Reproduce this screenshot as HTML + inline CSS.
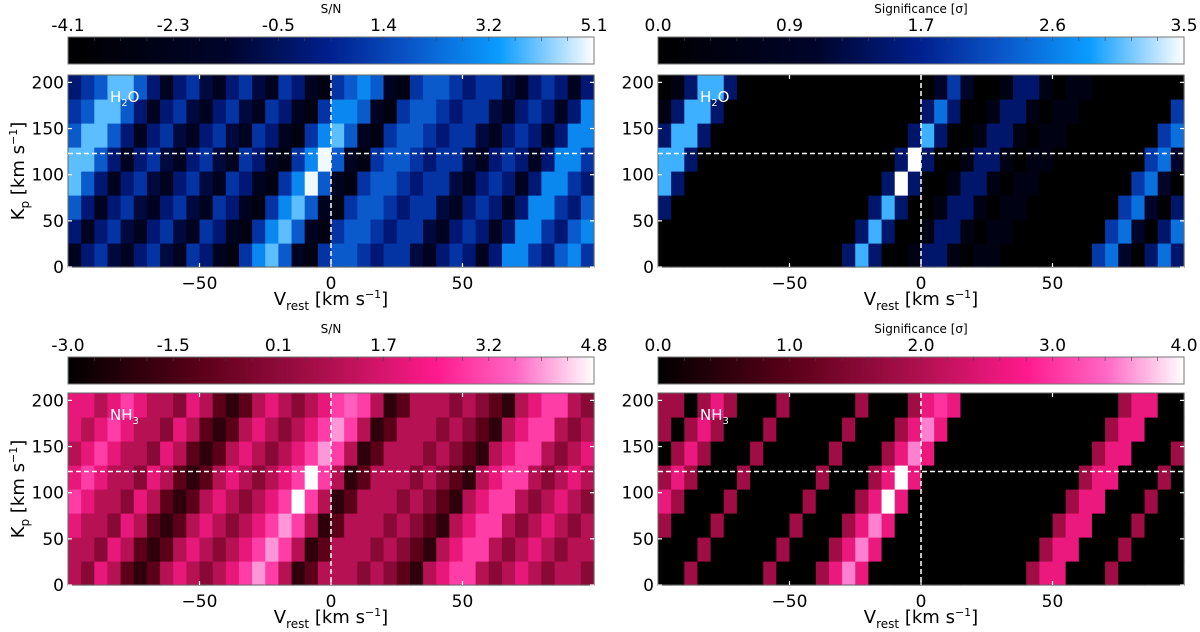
<!DOCTYPE html>
<html><head><meta charset="utf-8"><style>
body{margin:0;background:#fff;font-family:"Liberation Sans","DejaVu Sans",sans-serif}
svg{display:block}
text{font-family:"DejaVu Sans","Liberation Sans",sans-serif}
</style></head><body>
<svg id="fig" width="1200" height="632" viewBox="0 0 1200 632" xmlns="http://www.w3.org/2000/svg">
<defs>
<linearGradient id="gBlue" x1="0" x2="1" y1="0" y2="0">
<stop offset="0" stop-color="#000000"/><stop offset="0.3" stop-color="#00042a"/><stop offset="0.5" stop-color="#00208f"/><stop offset="0.65" stop-color="#0a55c8"/><stop offset="0.82" stop-color="#0a9cff"/><stop offset="1" stop-color="#ffffff"/>
</linearGradient>
<linearGradient id="gPink" x1="0" x2="1" y1="0" y2="0">
<stop offset="0" stop-color="#000000"/><stop offset="0.25" stop-color="#5a0018"/><stop offset="0.5" stop-color="#b0104f"/><stop offset="0.7" stop-color="#ff1a8c"/><stop offset="0.85" stop-color="#ff66c4"/><stop offset="1" stop-color="#ffffff"/>
</linearGradient>
</defs>
</svg>
<script>
// Vrest column centres: -97.5 ... 97.5 step 5 (40 columns); Kp rows 0..7 (bottom to top, 26 km/s each)
const vrestRange = [-100, 100];
const kpRange = [0, 208];
const xTicks = [-50, 0, 50];
const yTicks = [0, 50, 100, 150, 200];
const kpMarker = 123;
const vMarker = 0;

const snH2O = [
[-2,0,1,-1,-2,0,1,-1,-2,1,0,-2,-3,1,3,4,2,-2,-3,1,2,2,1,0,1,1,-1,-2,0,1,0,-2,0,3,3,1,0,2,3,1],
[0,-2,0,1,-1,-2,0,1,-1,-2,1,0,-2,-3,1,3,4,2,-2,-3,1,2,2,1,0,1,1,-1,-2,0,1,0,-2,0,3,3,1,0,2,3],
[2,0,-2,0,1,-1,-2,0,1,-1,-2,1,0,-2,-3,1,3,4,2,-2,-3,1,2,2,1,0,1,1,-1,-2,0,1,0,-2,0,3,3,1,0,2],
[4,2,0,-2,0,1,-1,-2,0,1,-1,-2,1,0,-2,-3,1,3,5,2,-2,-3,1,2,2,1,0,1,1,-1,-2,0,1,0,-2,0,3,3,1,0],
[4,4,2,0,-2,0,1,-1,-2,0,1,-1,-2,1,0,-2,-3,1,3,5,2,-2,-3,1,2,2,1,0,1,1,-1,-2,0,1,0,-2,0,3,3,1],
[2,4,4,2,0,-2,0,1,-1,-2,0,1,-1,-2,1,0,-2,-3,1,3,4,2,-2,-3,1,2,2,1,0,1,1,-1,-2,0,1,0,-2,0,3,3],
[1,2,4,4,2,0,-2,0,1,-1,-2,0,1,-1,-2,1,0,-2,-3,1,3,3,2,-2,-3,1,2,2,1,0,1,1,-1,-2,0,1,0,-2,0,3],
[0,1,2,4,4,2,0,-2,0,1,-1,-2,0,1,-1,-2,1,0,-2,-3,1,2,3,2,-2,-3,1,2,2,1,0,1,1,-1,-2,0,1,0,-2,0]];

const sigH2O = [
[0,0,0,0,0,0,0,0,0,0,0,0,0,0,1.5,3,1.5,0,0,0.5,1.5,1.5,0.5,0,0.5,0.5,0,0,0,0,0,0,0,2,2.5,1,0,1.5,2.5,1.5],
[0,0,0,0,0,0,0,0,0,0,0,0,0,0,0,1.5,3,1.5,0,0,0.5,1.5,1.5,0.5,0,0.5,0.5,0,0,0,0,0,0,0,2,2.5,1,0,1.5,2.5],
[1.5,0,0,0,0,0,0,0,0,0,0,0,0,0,0,0,1.5,3,1.5,0,0,0.5,1.5,1.5,0.5,0,0.5,0.5,0,0,0,0,0,0,0,2,2.5,1,0,1.5],
[3,1.5,0,0,0,0,0,0,0,0,0,0,0,0,0,0,0,1.5,3.5,1.5,0,0,0.5,1.5,1.5,0.5,0,0.5,0.5,0,0,0,0,0,0,0,2,2.5,1,0],
[3,3,1.5,0,0,0,0,0,0,0,0,0,0,0,0,0,0,0,1.5,3.5,1.5,0,0,0.5,1.5,1.5,0.5,0,0.5,0.5,0,0,0,0,0,0,0,2,2.5,1],
[1.5,3,3,1.5,0,0,0,0,0,0,0,0,0,0,0,0,0,0,0,1.5,3,1.5,0,0,0.5,1.5,1.5,0.5,0,0.5,0.5,0,0,0,0,0,0,0,2,2.5],
[0.5,1.5,3,3,1.5,0,0,0,0,0,0,0,0,0,0,0,0,0,0,0,1.5,2.5,1.5,0,0,0.5,1.5,1.5,0.5,0,0.5,0.5,0,0,0,0,0,0,0,2],
[0,0.5,1.5,3,3,1.5,0,0,0,0,0,0,0,0,0,0,0,0,0,0,0,1,2,1,0,0,0.5,1.5,1.5,0.5,0,0.5,0.5,0,0,0,0,0,0,0]];

const snNH3 = [
[1,0,2,1,-1,-2,-1,1,2,1,0,1,2,3,4,3,1,-2,-1,1,1,1,0,1,0,-1,-2,1,2,3,3,1,0,1,2,1,0,1,1,0],
[1,1,0,2,1,-1,-2,-1,1,2,1,0,1,2,3,4,3,1,-2,-1,1,1,1,0,1,0,-1,-2,1,2,3,3,1,0,1,2,1,0,1,1],
[2,1,1,0,2,1,-1,-2,-1,1,2,1,0,1,2,3,4,3,1,-2,-1,1,1,1,0,1,0,-1,-2,1,2,3,3,1,0,1,2,1,0,1],
[3,2,1,1,0,2,1,-1,-2,-1,1,2,1,0,1,2,3,4.8,3,1,-2,-1,1,1,1,0,1,0,-1,-2,1,2,3,3,1,0,1,2,1,0],
[2,3,2,1,1,0,2,1,-1,-2,-1,1,2,1,0,1,2,3,4.8,3,1,-2,-1,1,1,1,0,1,0,-1,-2,1,2,3,3,1,0,1,2,1],
[1,2,3,2,1,1,0,2,1,-1,-2,-1,1,2,1,0,1,2,3,4,3,1,-2,-1,1,1,1,0,1,0,-1,-2,1,2,3,3,1,0,1,2],
[2,1,2,3,2,1,1,0,2,1,-1,-2,-1,1,2,1,0,1,2,3,4,3,1,-2,-1,1,1,1,0,1,0,-1,-2,1,2,3,3,1,0,1],
[2,2,1,2,3,2,1,1,0,2,1,-1,-2,-1,1,2,1,0,1,2,3,3.5,3,1,-2,-1,1,1,1,0,1,0,-1,-2,1,2,3,3,1,0]];

const sigNH3 = [
[0,0,1.8,0,0,0,0,0,1.8,0,0,0,1.8,2.6,3.5,2.6,0,0,0,0,0,0,0,0,0,0,0,0,1.8,2.6,2.6,0,0,0,1.8,0,0,0,0,0],
[0,0,0,1.8,0,0,0,0,0,1.8,0,0,0,1.8,2.6,3.5,2.6,0,0,0,0,0,0,0,0,0,0,0,0,1.8,2.6,2.6,0,0,0,1.8,0,0,0,0],
[1.8,0,0,0,1.8,0,0,0,0,0,1.8,0,0,0,1.8,2.6,3.5,2.6,0,0,0,0,0,0,0,0,0,0,0,0,1.8,2.6,2.6,0,0,0,1.8,0,0,0],
[2.6,1.8,0,0,0,1.8,0,0,0,0,0,1.8,0,0,0,1.8,2.6,4,2.6,0,0,0,0,0,0,0,0,0,0,0,0,1.8,2.6,2.6,0,0,0,1.8,0,0],
[1.8,2.6,1.8,0,0,0,1.8,0,0,0,0,0,1.8,0,0,0,1.8,2.6,4,2.6,0,0,0,0,0,0,0,0,0,0,0,0,1.8,2.6,2.6,0,0,0,1.8,0],
[0,1.8,2.6,1.8,0,0,0,1.8,0,0,0,0,0,1.8,0,0,0,1.8,2.6,3.5,2.6,0,0,0,0,0,0,0,0,0,0,0,0,1.8,2.6,2.6,0,0,0,1.8],
[1.8,0,1.8,2.6,1.8,0,0,0,1.8,0,0,0,0,0,1.8,0,0,0,1.8,2.6,3.5,2.6,0,0,0,0,0,0,0,0,0,0,0,0,1.8,2.6,2.6,0,0,0],
[1.8,1.8,0,1.8,2.6,1.8,0,0,0,1.8,0,0,0,0,0,1.8,0,0,0,1.8,2.6,3,2.6,0,0,0,0,0,0,0,0,0,0,0,0,1.8,2.6,2.6,0,0]];

const cbTicksTL = ["-4.1","-2.3","-0.5","1.4","3.2","5.1"];
const cbTicksTR = ["0.0","0.9","1.7","2.6","3.5"];
const cbTicksBL = ["-3.0","-1.5","0.1","1.7","3.2","4.8"];
const cbTicksBR = ["0.0","1.0","2.0","3.0","4.0"];

const NS="http://www.w3.org/2000/svg";
const svg=document.getElementById('fig');
function mk(tag,attrs,parent){const e=document.createElementNS(NS,tag);for(const k in attrs)e.setAttribute(k,attrs[k]);(parent||svg).appendChild(e);return e;}
const blueStops=[[0,[0,0,0]],[0.3,[0,4,42]],[0.5,[0,32,143]],[0.65,[10,85,200]],[0.82,[10,156,255]],[1,[255,255,255]]];
const pinkStops=[[0,[0,0,0]],[0.25,[90,0,24]],[0.5,[176,16,79]],[0.7,[255,26,140]],[0.85,[255,102,196]],[1,[255,255,255]]];
function cmap(stops,t){t=Math.max(0,Math.min(1,t));for(let i=1;i<stops.length;i++){if(t<=stops[i][0]){const a=stops[i-1],b=stops[i];const f=(t-a[0])/(b[0]-a[0]);const c=a[1].map((v,k)=>Math.round(v+(b[1][k]-v)*f));return `rgb(${c[0]},${c[1]},${c[2]})`;}}return 'rgb(255,255,255)';}

function panel(o){
  const g=mk('g',{});
  
  
  const X0=o.x, X1=o.x+526, Y0=o.y, Y1=o.y+192;
  const xs=v=>X0+(v-vrestRange[0])/(vrestRange[1]-vrestRange[0])*(X1-X0);
  const ys=k=>Y1-(k-kpRange[0])/(kpRange[1]-kpRange[0])*(Y1-Y0);
  const cbY=o.cbY;
  const cbTitle=mk('text',{x:(X0+X1)/2,y:cbY-24,'font-size':12,'text-anchor':'middle',fill:'#000'},g);
  cbTitle.textContent=o.cbTitle;
  
  
  const cb=mk('rect',{x:X0,y:cbY,width:X1-X0,height:27,fill:`url(#${o.grad})`,stroke:'#777','stroke-width':1},g);
  
  
  o.cbTicks.forEach((t,i)=>{
    const tx=X0+i*(X1-X0)/(o.cbTicks.length-1);
    const te=mk('text',{x:tx,y:cbY-6,'font-size':17,'text-anchor':'middle',fill:'#000'},g);
    te.textContent=t;
    
    
  });
  for(let i=1;i<20;i++){const tx=X0+i*(X1-X0)/20;mk('line',{x1:tx,x2:tx,y1:cbY,y2:cbY+4,stroke:'#444','stroke-width':0.6},g);}
  const data=o.data, nr=data.length, nc=data[0].length;
  const cw=(vrestRange[1]-vrestRange[0])/nc, rh=(kpRange[1]-kpRange[0])/nr;
  for(let r=0;r<nr;r++)for(let c=0;c<nc;c++){
    const v0=vrestRange[0]+c*cw, k0=kpRange[0]+r*rh;
    const t=(data[r][c]-o.vmin)/(o.vmax-o.vmin);
    const cell=mk('rect',{x:xs(v0),y:ys(k0+rh),width:xs(v0+cw)-xs(v0)+0.6,height:ys(k0)-ys(k0+rh)+0.6,fill:cmap(o.stops,t)},g);
    
    
  }
  mk('rect',{x:X0,y:Y0,width:X1-X0,height:Y1-Y0,fill:'none',stroke:'#666','stroke-width':1},g);
  const vl=mk('line',{x1:xs(vMarker),x2:xs(vMarker),y1:Y0,y2:Y1,stroke:'#fff','stroke-width':1.5,'stroke-dasharray':'5,3'},g);
  
  
  const hl=mk('line',{x1:X0,x2:X1,y1:ys(kpMarker),y2:ys(kpMarker),stroke:'#fff','stroke-width':1.5,'stroke-dasharray':'5,3'},g);
  
  
  xTicks.forEach(v=>{
    mk('line',{x1:xs(v),x2:xs(v),y1:Y1,y2:Y1-4,stroke:'#fff','stroke-width':1.2},g);
    mk('line',{x1:xs(v),x2:xs(v),y1:Y0,y2:Y0+4,stroke:'#fff','stroke-width':1.2},g);
    const t=mk('text',{x:xs(v),y:Y1+22,'font-size':17,'text-anchor':'middle',fill:'#000'},g);
    t.textContent=v<0?'\u2212'+Math.abs(v):String(v);
    
    
  });
  yTicks.forEach(k=>{
    mk('line',{x1:X0,x2:X0+4,y1:ys(k),y2:ys(k),stroke:'#fff','stroke-width':1.2},g);
    mk('line',{x1:X1,x2:X1-4,y1:ys(k),y2:ys(k),stroke:'#fff','stroke-width':1.2},g);
    const t=mk('text',{x:X0-4,y:ys(k)+6,'font-size':17,'text-anchor':'end',fill:'#000'},g);
    t.textContent=String(k);
    
    
  });
  const xt=mk('text',{x:(X0+X1)/2,y:Y1+38,'font-size':18,'text-anchor':'middle',fill:'#000'},g);
  xt.innerHTML='V<tspan font-size="12" dy="5">rest</tspan><tspan dy="-5"> [km s</tspan><tspan font-size="11" dy="-7">\u22121</tspan><tspan dy="7">]</tspan>';
  
  
  if(o.ylab){
    const yt=mk('text',{x:0,y:0,'font-size':18,'text-anchor':'middle',fill:'#000',transform:`translate(24,${(Y0+Y1)/2}) rotate(-90)`},g);
    yt.innerHTML='K<tspan font-size="12" dy="5">p</tspan><tspan dy="-5"> [km s</tspan><tspan font-size="11" dy="-7">\u22121</tspan><tspan dy="7">]</tspan>';
    
    
  }
  const lab=mk('text',{x:X0+42,y:Y0+27,'font-size':15,fill:'#fff'},g);
  lab.innerHTML=o.mol;
  
  
}
panel({name:'panel-h2o-snr',x:68,y:75,cbY:37,data:snH2O,vmin:-4.1,vmax:5.1,stops:blueStops,grad:'gBlue',cbTicks:cbTicksTL,cbTitle:'S/N',ylab:true,mol:'H<tspan font-size="10" dy="4">2</tspan><tspan dy="-4">O</tspan>'});
panel({name:'panel-h2o-significance',x:658,y:75,cbY:37,data:sigH2O,vmin:0,vmax:3.5,stops:blueStops,grad:'gBlue',cbTicks:cbTicksTR,cbTitle:'Significance [\u03c3]',ylab:false,mol:'H<tspan font-size="10" dy="4">2</tspan><tspan dy="-4">O</tspan>'});
panel({name:'panel-nh3-snr',x:68,y:393,cbY:357,data:snNH3,vmin:-3.0,vmax:4.8,stops:pinkStops,grad:'gPink',cbTicks:cbTicksBL,cbTitle:'S/N',ylab:true,mol:'NH<tspan font-size="10" dy="4">3</tspan>'});
panel({name:'panel-nh3-significance',x:658,y:393,cbY:357,data:sigNH3,vmin:0,vmax:4.0,stops:pinkStops,grad:'gPink',cbTicks:cbTicksBR,cbTitle:'Significance [\u03c3]',ylab:false,mol:'NH<tspan font-size="10" dy="4">3</tspan>'});
</script>
</body></html>
